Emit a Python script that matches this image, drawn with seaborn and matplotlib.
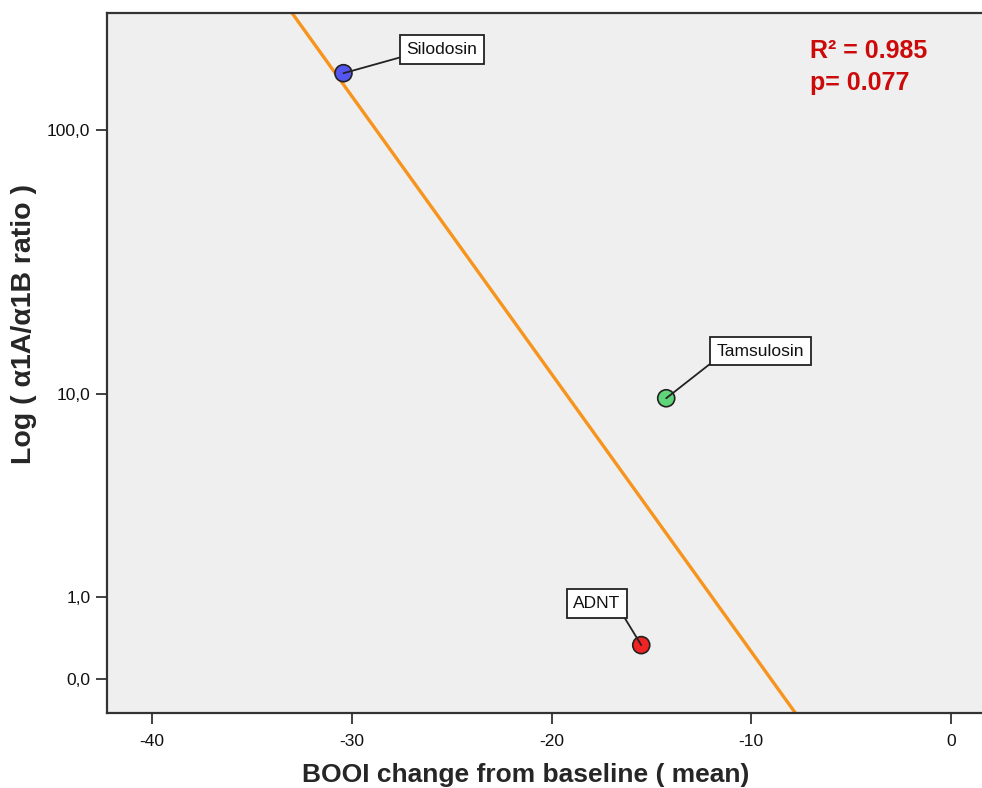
import numpy as np
import pandas as pd
import matplotlib
matplotlib.use("Agg")
import matplotlib.pyplot as plt
import seaborn as sns

# --- data ---
drugs = ["Silodosin", "Tamsulosin", "ADNT"]
booi_change = [-30.42, -14.26, -15.51]
ratio = [162.0, 9.6, 0.33]
point_colors = ["#5555f2", "#5fd479", "#f02424"]
ytick_values = [0.0, 1.0, 10.0, 100.0]
ytick_labels = ["0,0", "1,0", "10,0", "100,0"]
xtick_values = [-40, -30, -20, -10, 0]
r2_text = "R² = 0.985"
p_text = "p= 0.077"

# --- style ---
sns.set_theme(style="ticks", rc={
    "axes.facecolor": "#efefef",
    "axes.edgecolor": "#333333",
    "axes.linewidth": 1.6,
    "xtick.major.size": 8,
    "ytick.major.size": 8,
    "xtick.major.width": 1.3,
    "ytick.major.width": 1.3,
    "xtick.color": "#333333",
    "ytick.color": "#333333",
})
plt.rcParams["font.family"] = ["Liberation Sans", "DejaVu Sans"]
plt.rcParams["axes.unicode_minus"] = False

df = pd.DataFrame({"drug": drugs, "booi": booi_change, "ratio": ratio})
# the axis in the original is log10(ratio + 1)
df["log_ratio"] = np.log10(df["ratio"] + 1)

fig = plt.figure(figsize=(9.82, 7.88), dpi=100)
ax = fig.add_axes([107 / 982, 75 / 788, 1 - 107 / 982 + 0.002, 700 / 788])

ax.set_xlim(-42.26, 1.65)
ax.set_ylim(-0.124, 2.432)

# fit line drawn across the whole x range
sns.regplot(data=df, x="booi", y="log_ratio", ax=ax, scatter=False, ci=None,
            truncate=False, line_kws={"color": "#f7941d", "lw": 2.4, "zorder": 2})

sns.scatterplot(data=df, x="booi", y="log_ratio", hue="drug", palette=point_colors,
                s=150, edgecolor="#222222", linewidth=1.2, legend=False, ax=ax, zorder=3)

# label boxes with leader lines
offsets = {"Silodosin": (71, 17), "Tamsulosin": (68, 34), "ADNT": (-32, 30)}
relpos = {"Silodosin": (0.0, 0.1), "Tamsulosin": (0.0, 0.0), "ADNT": (1.0, 0.0)}
for _, row in df.iterrows():
    ax.annotate(row["drug"], xy=(row["booi"], row["log_ratio"]),
                xytext=offsets[row["drug"]], textcoords="offset points",
                ha="center", va="center", fontsize=12.5, color="#111111",
                bbox=dict(boxstyle="square,pad=0.38", fc="white", ec="#222222", lw=1.3),
                arrowprops=dict(arrowstyle="-", color="#222222", lw=1.3,
                                relpos=relpos[row["drug"]], shrinkA=0, shrinkB=0),
                zorder=4)

ax.text(0.802, 0.945, r2_text, transform=ax.transAxes, fontsize=18, fontweight="bold",
        color="#cc0a0a", ha="left", va="center")
ax.text(0.802, 0.900, p_text, transform=ax.transAxes, fontsize=18, fontweight="bold",
        color="#cc0a0a", ha="left", va="center")

ax.set_yticks(np.log10(np.array(ytick_values) + 1))
ax.set_yticklabels(ytick_labels)
ax.set_xticks(xtick_values)
ax.tick_params(axis="both", labelsize=12.5, labelcolor="#111111")
ax.tick_params(axis="x", pad=7)
ax.tick_params(axis="y", pad=4)

ax.set_xlabel("BOOI change from baseline ( mean)", fontsize=19, fontweight="bold")
ax.xaxis.set_label_coords(0.477, -0.072)
ax.set_ylabel("Log ( α1A/α1B ratio )", fontsize=20.5, fontweight="bold")
ax.yaxis.set_label_coords(-0.080, 0.555)

ax.spines["right"].set_visible(False)
ax.spines["top"].set_visible(True)

fig.savefig("out.png", dpi=100, facecolor="white")
